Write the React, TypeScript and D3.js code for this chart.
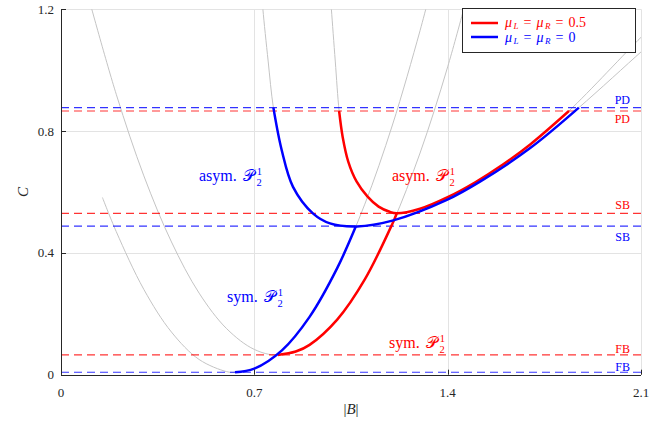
import * as d3 from "d3";

const width = 669;
const height = 423;

// axis ticks
const xTicks = [0, 0.7, 1.4, 2.1];
const xTickLabels = ["0", "0.7", "1.4", "2.1"];
const yTicks = [0, 0.4, 0.8, 1.2];
const yTickLabels = ["0", "0.4", "0.8", "1.2"];

// horizontal bifurcation levels
const levelValues = [0.877, 0.866, 0.53, 0.488, 0.065, 0.008];
const levelNames = ["PD", "PD", "SB", "SB", "FB", "FB"];
const levelColors = ["blue", "red", "red", "blue", "red", "blue"];
const levelLabelDy = [-4, 12, -4, 15, -2, -1];

// full (grey) solution curves, [B, C]
const grayBlueSym = [
  [0.15, 0.582], [0.2, 0.47], [0.3, 0.28], [0.4, 0.14], [0.5, 0.05],
  [0.6, 0.01], [0.63, 0.008], [0.7, 0.02], [0.8, 0.08], [0.9, 0.19], [1.0, 0.35],
  [1.1, 0.56], [1.2, 0.82], [1.3, 1.13], [1.35, 1.304],
];
const grayRedSym = [
  [0.1, 1.238], [0.2, 0.921], [0.3, 0.653], [0.4, 0.436], [0.5, 0.268], [0.6, 0.151],
  [0.7, 0.083], [0.785, 0.065], [0.9, 0.098], [1.0, 0.181], [1.1, 0.313], [1.2, 0.496],
  [1.3, 0.728], [1.4, 1.011], [1.5, 1.343],
];
const grayBlueAsym = [
  [0.727, 1.25], [0.731, 1.2], [0.75, 1.03], [0.769, 0.877], [0.799, 0.738], [0.84, 0.617],
  [0.912, 0.53], [0.974, 0.497], [1.072, 0.487], [1.2, 0.506], [1.397, 0.574],
  [1.517, 0.634], [1.7, 0.745], [1.875, 0.877], [2.1, 1.06], [2.15, 1.1],
];
const grayRedAsym = [
  [0.975, 1.25], [0.979, 1.2], [0.993, 1.03], [1.007, 0.866], [1.02, 0.78], [1.04, 0.7],
  [1.07, 0.635], [1.11, 0.585], [1.15, 0.552], [1.19, 0.535], [1.215, 0.53], [1.3, 0.545],
  [1.4, 0.583], [1.5, 0.632], [1.6, 0.69], [1.7, 0.757], [1.839, 0.866], [2.1, 1.108], [2.15, 1.15],
];

// stable branches
const blueSym = [[0.63, 0.008], [0.7, 0.02], [0.8, 0.08], [0.9, 0.19], [1.0, 0.35], [1.068, 0.488]];
const redSym = [[0.785, 0.065], [0.85, 0.076], [0.9, 0.098], [1.0, 0.181], [1.1, 0.313], [1.2, 0.496], [1.216, 0.53]];
const blueAsym = [
  [0.769, 0.877], [0.799, 0.738], [0.84, 0.617], [0.912, 0.53], [0.974, 0.497], [1.072, 0.487],
  [1.2, 0.506], [1.397, 0.574], [1.517, 0.634], [1.7, 0.745], [1.875, 0.877],
];
const redAsym = [
  [1.007, 0.866], [1.02, 0.78], [1.04, 0.7], [1.07, 0.635], [1.11, 0.585], [1.15, 0.552],
  [1.19, 0.535], [1.215, 0.53], [1.3, 0.545], [1.4, 0.583], [1.5, 0.632], [1.6, 0.69],
  [1.7, 0.757], [1.839, 0.866],
];

// annotations: [x, baseline, text, colour]
const notes = [
  [199, 181, "asym.", "blue"],
  [392, 181, "asym.", "red"],
  [227, 302, "sym.", "blue"],
  [389, 348, "sym.", "red"],
];

const legendLabels = ["0.5", "0"];
const legendColors = ["red", "blue"];

const serif = "'Liberation Serif', 'Times New Roman', Times, 'DejaVu Serif', 'Noto Serif', serif";
const axisColor = "#262626";
const snap = (v: number) => Math.round(v) + 0.5;

export default function App() {
  const x = d3.scaleLinear().domain([0, 2.1]).range([61, 641]);
  const y = d3.scaleLinear().domain([0, 1.2]).range([374.7, 9.3]);
  const line = d3
    .line<number[]>()
    .x((d) => x(d[0]))
    .y((d) => y(d[1]))
    .curve(d3.curveCatmullRom.alpha(0.5));

  const [x0, x1] = x.range();
  const [yb, yt] = y.range();

  return (
    <svg width={width} height={height} style={{ position: "absolute", left: 0, top: 0 }}>
      <defs>
        <clipPath id="plot">
          <rect x={x0} y={yt} width={x1 - x0} height={yb - yt} />
        </clipPath>
      </defs>
      <rect width={width} height={height} fill="white" />

      {/* grid */}
      {xTicks.slice(1).map((t) => (
        <line key={"gx" + t} x1={snap(x(t))} x2={snap(x(t))} y1={yb} y2={yt} stroke="#e3e3e3" />
      ))}
      {yTicks.slice(1).map((t) => (
        <line key={"gy" + t} x1={x0} x2={x1} y1={snap(y(t))} y2={snap(y(t))} stroke="#e3e3e3" />
      ))}

      <g clipPath="url(#plot)">
        {[grayBlueSym, grayRedSym, grayBlueAsym, grayRedAsym].map((d, i) => (
          <path key={"g" + i} d={line(d) ?? ""} fill="none" stroke="#c4c4c4" strokeWidth={1} />
        ))}
        {levelValues.map((v, i) => (
          <line
            key={"l" + i}
            x1={x0}
            x2={x1}
            y1={y(v)}
            y2={y(v)}
            stroke={levelColors[i]}
            strokeWidth={1.2}
            strokeOpacity={0.8}
            strokeDasharray="8,5"
          />
        ))}
        <path d={line(redSym) ?? ""} fill="none" stroke="red" strokeWidth={2.5} />
        <path d={line(redAsym) ?? ""} fill="none" stroke="red" strokeWidth={2.5} />
        <path d={line(blueSym) ?? ""} fill="none" stroke="blue" strokeWidth={2.5} />
        <path d={line(blueAsym) ?? ""} fill="none" stroke="blue" strokeWidth={2.5} />
      </g>

      <g style={{ fontFamily: serif }} fontFamily={serif}>
        {/* level labels */}
        {levelValues.map((v, i) => (
          <text key={"ll" + i} x={630} y={y(v) + levelLabelDy[i]} fill={levelColors[i]} fontSize={12} textAnchor="end">
            {levelNames[i]}
          </text>
        ))}

        {/* branch annotations */}
        {notes.map(([nx, ny, s, c], i) => (
          <text key={"n" + i} x={nx as number} y={ny as number} fill={c as string} fontSize={16}>
            {s}
            <tspan dx={6}>𝒫</tspan>
            <tspan dx={2} dy={-6} fontSize={10.5}>1</tspan>
            <tspan dx={-5.5} dy={10.5} fontSize={10.5}>2</tspan>
          </text>
        ))}

        {/* axes */}
        <line x1={snap(x0)} x2={snap(x0)} y1={yt} y2={yb} stroke={axisColor} />
        <line x1={x0} x2={x1} y1={snap(yb)} y2={snap(yb)} stroke={axisColor} />
        {xTicks.map((t, i) => (
          <g key={"xt" + t}>
            <line x1={snap(x(t))} x2={snap(x(t))} y1={yb} y2={yb - 5} stroke={axisColor} />
            <text x={x(t)} y={397} textAnchor="middle" fontSize={13} fill={axisColor}>
              {xTickLabels[i]}
            </text>
          </g>
        ))}
        {yTicks.map((t, i) => (
          <g key={"yt" + t}>
            <line x1={x0} x2={x0 + 5} y1={snap(y(t))} y2={snap(y(t))} stroke={axisColor} />
            <text x={54} y={y(t) + 4.5} textAnchor="end" fontSize={13} fill={axisColor}>
              {yTickLabels[i]}
            </text>
          </g>
        ))}
        <text x={(x0 + x1) / 2} y={414} textAnchor="middle" fontSize={15} fill={axisColor}>
          |<tspan fontStyle="italic">B</tspan>|
        </text>
        <text transform={`translate(28,${(yt + yb) / 2}) rotate(-90)`} textAnchor="middle" fontSize={15} fontStyle="italic" fill={axisColor}>
          C
        </text>

        {/* legend */}
        <rect x={462.5} y={8.5} width={173} height={44} fill="white" stroke={axisColor} />
        {legendLabels.map((lab, i) => (
          <g key={"lg" + i}>
            <line x1={471} x2={498} y1={23 + i * 14} y2={23 + i * 14} stroke={legendColors[i]} strokeWidth={2.5} />
            <text x={505} y={27 + i * 14.5} fontSize={13} fill={legendColors[i]}>
              <tspan fontStyle="italic" fontSize={14}>μ</tspan>
              <tspan fontStyle="italic" fontSize={9} dx={1.5} dy={2}>L</tspan>
              <tspan dx={5} dy={-2} fontSize={14}>=</tspan>
              <tspan dx={5} fontStyle="italic" fontSize={14}>μ</tspan>
              <tspan fontStyle="italic" fontSize={9} dx={1.5} dy={2}>R</tspan>
              <tspan dx={5} dy={-2} fontSize={14}>=</tspan>
              <tspan dx={5} fontSize={14}>{lab}</tspan>
            </text>
          </g>
        ))}
      </g>
    </svg>
  );
}
